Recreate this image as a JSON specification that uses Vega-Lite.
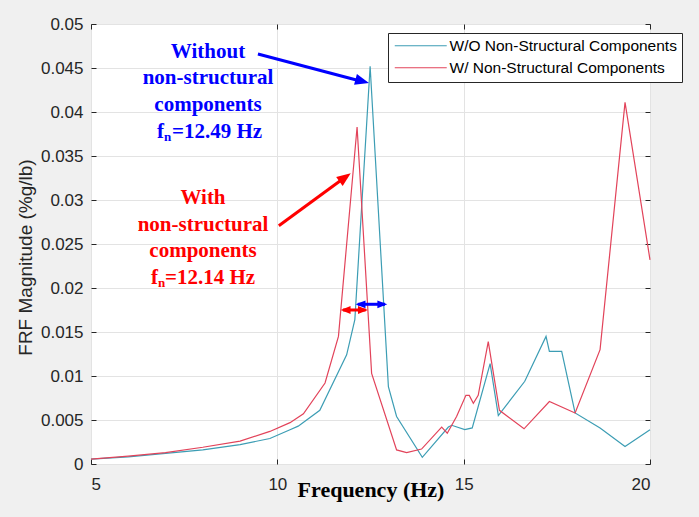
{
  "$schema": "https://vega.github.io/schema/vega-lite/v6.json",
  "width": 559,
  "height": 440,
  "autosize": "none",
  "padding": {"left": 91, "top": 24, "right": 49, "bottom": 53},
  "background": "#f0f0f0",
  "config": {
    "view": {"fill": "white", "stroke": "#262626", "strokeWidth": 1},
    "axis": {
      "domain": false,
      "tickSize": -5,
      "tickColor": "#262626",
      "labelFont": "Liberation Sans",
      "labelFontSize": 17,
      "labelColor": "#262626",
      "gridColor": "#e3e3e3",
      "titleFont": "Liberation Sans",
      "titleColor": "#262626",
      "titleFontWeight": "normal"
    }
  },
  "datasets": {
    "frf": [
      {"series": "W/O Non-Structural Components", "freq": 5.0, "frf": 0.00055},
      {"series": "W/O Non-Structural Components", "freq": 6.0, "frf": 0.00082},
      {"series": "W/O Non-Structural Components", "freq": 7.0, "frf": 0.0012},
      {"series": "W/O Non-Structural Components", "freq": 8.0, "frf": 0.0016},
      {"series": "W/O Non-Structural Components", "freq": 9.0, "frf": 0.0022},
      {"series": "W/O Non-Structural Components", "freq": 9.8, "frf": 0.0029},
      {"series": "W/O Non-Structural Components", "freq": 10.34, "frf": 0.0039},
      {"series": "W/O Non-Structural Components", "freq": 10.56, "frf": 0.0043},
      {"series": "W/O Non-Structural Components", "freq": 11.14, "frf": 0.0061},
      {"series": "W/O Non-Structural Components", "freq": 11.86, "frf": 0.0124},
      {"series": "W/O Non-Structural Components", "freq": 12.08, "frf": 0.0164},
      {"series": "W/O Non-Structural Components", "freq": 12.49, "frf": 0.0452},
      {"series": "W/O Non-Structural Components", "freq": 12.98, "frf": 0.0088},
      {"series": "W/O Non-Structural Components", "freq": 13.2, "frf": 0.0054},
      {"series": "W/O Non-Structural Components", "freq": 13.89, "frf": 0.00076},
      {"series": "W/O Non-Structural Components", "freq": 14.59, "frf": 0.0042},
      {"series": "W/O Non-Structural Components", "freq": 14.68, "frf": 0.0044},
      {"series": "W/O Non-Structural Components", "freq": 15.03, "frf": 0.0039},
      {"series": "W/O Non-Structural Components", "freq": 15.23, "frf": 0.0041},
      {"series": "W/O Non-Structural Components", "freq": 15.71, "frf": 0.0114},
      {"series": "W/O Non-Structural Components", "freq": 15.93, "frf": 0.0055},
      {"series": "W/O Non-Structural Components", "freq": 16.64, "frf": 0.0094},
      {"series": "W/O Non-Structural Components", "freq": 17.21, "frf": 0.0145},
      {"series": "W/O Non-Structural Components", "freq": 17.3, "frf": 0.0128},
      {"series": "W/O Non-Structural Components", "freq": 17.63, "frf": 0.0128},
      {"series": "W/O Non-Structural Components", "freq": 17.99, "frf": 0.0058},
      {"series": "W/O Non-Structural Components", "freq": 18.66, "frf": 0.0041},
      {"series": "W/O Non-Structural Components", "freq": 19.33, "frf": 0.002},
      {"series": "W/O Non-Structural Components", "freq": 20.0, "frf": 0.0039},
      {"series": "W/ Non-Structural Components", "freq": 5.0, "frf": 0.00055},
      {"series": "W/ Non-Structural Components", "freq": 6.0, "frf": 0.0009},
      {"series": "W/ Non-Structural Components", "freq": 7.0, "frf": 0.0013},
      {"series": "W/ Non-Structural Components", "freq": 8.0, "frf": 0.0019},
      {"series": "W/ Non-Structural Components", "freq": 9.0, "frf": 0.0026},
      {"series": "W/ Non-Structural Components", "freq": 9.8, "frf": 0.0037},
      {"series": "W/ Non-Structural Components", "freq": 10.34, "frf": 0.0047},
      {"series": "W/ Non-Structural Components", "freq": 10.7, "frf": 0.0057},
      {"series": "W/ Non-Structural Components", "freq": 11.28, "frf": 0.0092},
      {"series": "W/ Non-Structural Components", "freq": 11.64, "frf": 0.0145},
      {"series": "W/ Non-Structural Components", "freq": 12.14, "frf": 0.0383},
      {"series": "W/ Non-Structural Components", "freq": 12.53, "frf": 0.0103},
      {"series": "W/ Non-Structural Components", "freq": 13.2, "frf": 0.0016},
      {"series": "W/ Non-Structural Components", "freq": 13.47, "frf": 0.0013},
      {"series": "W/ Non-Structural Components", "freq": 13.87, "frf": 0.0017},
      {"series": "W/ Non-Structural Components", "freq": 14.41, "frf": 0.0042},
      {"series": "W/ Non-Structural Components", "freq": 14.56, "frf": 0.0035},
      {"series": "W/ Non-Structural Components", "freq": 14.81, "frf": 0.0054},
      {"series": "W/ Non-Structural Components", "freq": 15.06, "frf": 0.0078},
      {"series": "W/ Non-Structural Components", "freq": 15.15, "frf": 0.0078},
      {"series": "W/ Non-Structural Components", "freq": 15.26, "frf": 0.0069},
      {"series": "W/ Non-Structural Components", "freq": 15.39, "frf": 0.0078},
      {"series": "W/ Non-Structural Components", "freq": 15.66, "frf": 0.0139},
      {"series": "W/ Non-Structural Components", "freq": 15.96, "frf": 0.0061},
      {"series": "W/ Non-Structural Components", "freq": 16.62, "frf": 0.004},
      {"series": "W/ Non-Structural Components", "freq": 17.3, "frf": 0.0071},
      {"series": "W/ Non-Structural Components", "freq": 17.99, "frf": 0.0058},
      {"series": "W/ Non-Structural Components", "freq": 18.66, "frf": 0.013},
      {"series": "W/ Non-Structural Components", "freq": 19.33, "frf": 0.0411},
      {"series": "W/ Non-Structural Components", "freq": 20.0, "frf": 0.0232}
    ],
    "notes": [
      {"group": "without", "part": "line", "text": "Without", "freq": 8.14, "frf": 0.0461},
      {"group": "without", "part": "line", "text": "non-structural", "freq": 8.14, "frf": 0.04313},
      {"group": "without", "part": "line", "text": "components", "freq": 8.14, "frf": 0.04011},
      {"group": "without", "part": "fn", "text": "f", "freq": 6.771, "frf": 0.0371},
      {"group": "without", "part": "sub", "text": "n", "freq": 6.959, "frf": 0.03665},
      {"group": "without", "part": "fn", "text": "=12.49 Hz", "freq": 7.173, "frf": 0.0371},
      {"group": "with", "part": "line", "text": "With", "freq": 8.005, "frf": 0.02955},
      {"group": "with", "part": "line", "text": "non-structural", "freq": 8.005, "frf": 0.02653},
      {"group": "with", "part": "line", "text": "components", "freq": 8.005, "frf": 0.02352},
      {"group": "with", "part": "fn", "text": "f", "freq": 6.61, "frf": 0.02051},
      {"group": "with", "part": "sub", "text": "n", "freq": 6.798, "frf": 0.02006},
      {"group": "with", "part": "fn", "text": "=12.14 Hz", "freq": 6.985, "frf": 0.02051}
    ],
    "arrows": [
      {"group": "without", "freq": 9.48, "frf": 0.04659, "freq2": 12.25, "frf2": 0.04349},
      {"group": "with", "freq": 10.04, "frf": 0.02708, "freq2": 11.79, "frf2": 0.0325},
      {"group": "with", "freq": 11.76, "frf": 0.0175, "freq2": 12.37, "frf2": 0.0175},
      {"group": "without", "freq": 12.16, "frf": 0.01815, "freq2": 12.89, "frf2": 0.01815}
    ],
    "heads": [
      {"group": "without", "dir": "peakBlue", "freq": 12.46, "frf": 0.0433},
      {"group": "with", "dir": "peakRed", "freq": 11.97, "frf": 0.03303},
      {"group": "with", "dir": "left", "freq": 11.7, "frf": 0.0175},
      {"group": "with", "dir": "right", "freq": 12.43, "frf": 0.0175},
      {"group": "without", "dir": "left", "freq": 12.1, "frf": 0.01815},
      {"group": "without", "dir": "right", "freq": 12.95, "frf": 0.01815}
    ]
  },
  "layer": [
    {
      "layer": [
        {
          "data": {"name": "frf"},
          "mark": {"type": "line", "strokeWidth": 1.2},
          "encoding": {
            "x": {
              "field": "freq",
              "type": "quantitative",
              "scale": {"domain": [5, 20], "nice": false, "zero": false},
              "axis": {
                "values": [5, 10, 15, 20],
                "labelPadding": 17,
                "title": "Frequency (Hz)",
                "titleFont": "Liberation Serif",
                "titleFontWeight": "bold",
                "titleFontSize": 22,
                "titleColor": "black",
                "titleY": 25,
                "titleBaseline": "middle"
              }
            },
            "y": {
              "field": "frf",
              "type": "quantitative",
              "scale": {"domain": [0, 0.05], "nice": false},
              "axis": {
                "values": [0, 0.005, 0.01, 0.015, 0.02, 0.025, 0.03, 0.035, 0.04, 0.045, 0.05],
                "format": ".3~f",
                "labelPadding": 13,
                "title": "FRF Magnitude (%g/lb)",
                "titleFontSize": 19,
                "titleX": -66,
                "titleY": 233,
                "titleBaseline": "middle"
              }
            },
            "color": {
              "field": "series",
              "type": "nominal",
              "scale": {
                "domain": ["W/O Non-Structural Components", "W/ Non-Structural Components"],
                "range": ["#3c9db4", "#e2435a"]
              },
              "legend": {
                "title": null,
                "orient": "none",
                "legendX": 297,
                "legendY": 9,
                "direction": "vertical",
                "symbolType": "M-5,0H5",
                "symbolSize": 108,
                "symbolOffset": 20,
                "symbolStrokeWidth": 1.2,
                "labelFont": "Liberation Sans",
                "labelFontSize": 15.5,
                "labelColor": "black",
                "labelLimit": 400,
                "labelOffset": 21,
                "strokeColor": "#262626",
                "fillColor": "white",
                "padding": 5,
                "rowPadding": 5
              }
            }
          }
        },
        {
          "data": {"name": "arrows"},
          "mark": {"type": "rule", "strokeWidth": 3},
          "encoding": {
            "x": {"field": "freq", "type": "quantitative"},
            "y": {"field": "frf", "type": "quantitative"},
            "x2": {"field": "freq2"},
            "y2": {"field": "frf2"},
            "color": {"condition": {"test": "datum.group === 'with'", "value": "#ff0000"}, "value": "#0000ff"}
          }
        },
        {
          "data": {"name": "heads"},
          "mark": {"type": "point", "shape": "M0,0L-0.55,1.4L0.55,1.4Z", "filled": true, "opacity": 1, "strokeWidth": 0},
          "encoding": {
            "x": {"field": "freq", "type": "quantitative"},
            "y": {"field": "frf", "type": "quantitative"},
            "angle": {
              "field": "dir",
              "type": "nominal",
              "scale": {"type": "ordinal", "domain": ["peakBlue", "peakRed", "right", "left"], "range": [105, 54, 90, 270]},
              "legend": null
            },
            "size": {"condition": {"test": "datum.dir === 'left' || datum.dir === 'right'", "value": 200}, "value": 400},
            "color": {"condition": {"test": "datum.group === 'with'", "value": "#ff0000"}, "value": "#0000ff"}
          }
        },
        {
          "data": {"name": "notes"},
          "transform": [{"filter": "datum.part === 'line'"}],
          "mark": {"type": "text", "align": "center", "baseline": "alphabetic", "font": "Liberation Serif", "fontWeight": "bold", "fontSize": 21},
          "encoding": {
            "x": {"field": "freq", "type": "quantitative"},
            "y": {"field": "frf", "type": "quantitative"},
            "text": {"field": "text"},
            "color": {"condition": {"test": "datum.group === 'with'", "value": "#ff0000"}, "value": "#0000ff"}
          }
        },
        {
          "data": {"name": "notes"},
          "transform": [{"filter": "datum.part === 'fn'"}],
          "mark": {"type": "text", "align": "left", "baseline": "alphabetic", "font": "Liberation Serif", "fontWeight": "bold", "fontSize": 21},
          "encoding": {
            "x": {"field": "freq", "type": "quantitative"},
            "y": {"field": "frf", "type": "quantitative"},
            "text": {"field": "text"},
            "color": {"condition": {"test": "datum.group === 'with'", "value": "#ff0000"}, "value": "#0000ff"}
          }
        },
        {
          "data": {"name": "notes"},
          "transform": [{"filter": "datum.part === 'sub'"}],
          "mark": {"type": "text", "align": "left", "baseline": "alphabetic", "font": "Liberation Serif", "fontWeight": "bold", "fontSize": 13},
          "encoding": {
            "x": {"field": "freq", "type": "quantitative"},
            "y": {"field": "frf", "type": "quantitative"},
            "text": {"field": "text"},
            "color": {"condition": {"test": "datum.group === 'with'", "value": "#ff0000"}, "value": "#0000ff"}
          }
        }
      ]
    },
    {
      "data": {"values": [{"freq": 5, "frf": 0}]},
      "mark": {"type": "point", "opacity": 0},
      "encoding": {
        "x": {
          "field": "freq",
          "type": "quantitative",
          "axis": {"orient": "top", "values": [5, 10, 15, 20], "labels": false, "grid": false, "title": null}
        },
        "y": {
          "field": "frf",
          "type": "quantitative",
          "axis": {"orient": "right", "values": [0, 0.005, 0.01, 0.015, 0.02, 0.025, 0.03, 0.035, 0.04, 0.045, 0.05], "labels": false, "grid": false, "title": null}
        }
      }
    }
  ],
  "resolve": {"axis": {"x": "independent", "y": "independent"}}
}
